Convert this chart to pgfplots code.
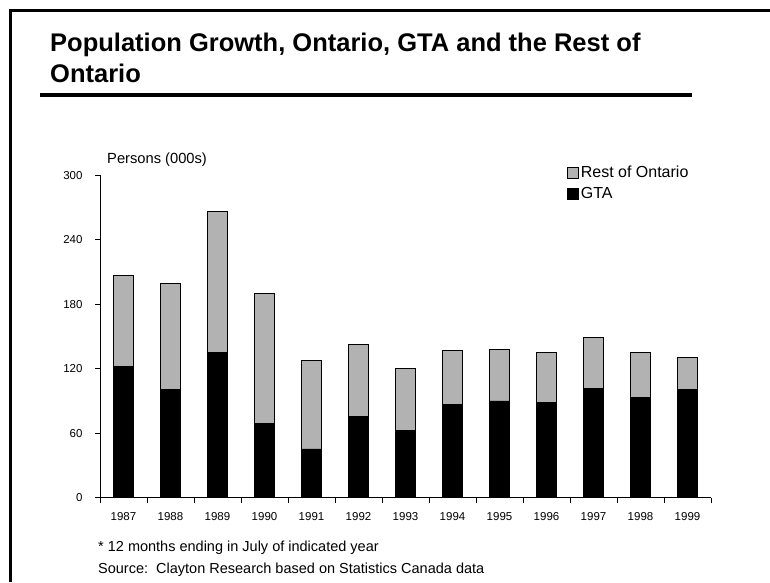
\documentclass[border=0pt]{standalone}
\usepackage{fontspec}
\setmainfont{Liberation Sans}
\usepackage{pgfplots}
\pgfplotsset{compat=1.18}
\definecolor{restgray}{RGB}{178,178,178}
\begin{document}
\begin{tikzpicture}[x=1pt,y=1pt]
\useasboundingbox (0,0) rectangle (770,582);
\fill[white] (0,0) rectangle (770,582);
\draw[line width=2.6pt] (10.5,0) -- (10.5,571.5) -- (770,571.5);
\node[anchor=base west, inner sep=0pt, font=\fontsize{25.5}{30}\bfseries\selectfont] at (50,530) {Population Growth, Ontario, GTA and the Rest of};
\node[anchor=base west, inner sep=0pt, font=\fontsize{25.5}{30}\bfseries\selectfont] at (50,499) {Ontario};
\draw[line width=3.6pt] (40,487) -- (692,487);
\node[anchor=west, inner sep=0pt, font=\fontsize{14.7}{17}\selectfont] at (107,422) {Persons (000s)};
\node[anchor=base west, inner sep=0pt, font=\fontsize{14.5}{17}\selectfont] at (98,31) {* 12 months ending in July of indicated year};
\node[anchor=base west, inner sep=0pt, font=\fontsize{14.5}{17}\selectfont] at (98,9) {Source:\ \ Clayton Research based on Statistics Canada data};
\begin{axis}[
  at={(100pt,84.3pt)}, anchor=south west,
  width=611pt, height=322.4pt, scale only axis,
  xmin=-0.5, xmax=12.5, ymin=0, ymax=300,
  ytick={0,60,120,180,240,300},
  xtick={-0.5,0.5,1.5,2.5,3.5,4.5,5.5,6.5,7.5,8.5,9.5,10.5,11.5,12.5},
  xticklabels={},
  extra x ticks={0,1,2,3,4,5,6,7,8,9,10,11,12},
  extra x tick labels={1987,1988,1989,1990,1991,1992,1993,1994,1995,1996,1997,1998,1999},
  extra x tick style={tick style={draw=none}, xticklabel style={yshift=-6pt}},
  axis lines*=left,
  axis line style={line width=0.9pt},
  tick style={line width=0.9pt, black},
  tick align=outside,
  major tick length=5pt,
  tick label style={font=\fontsize{11.5}{13}\selectfont},
  yticklabel style={xshift=-9pt},
  /pgf/number format/assume math mode=true,
  ybar stacked, bar width=20pt,
  reverse legend,
  legend cell align=left,
  legend style={at={(0.764,1.035)}, anchor=north west, draw=none, fill=none,
    font=\fontsize{16}{19}\selectfont, inner sep=0pt, row sep=4pt},
  legend image code/.code={\draw[#1] (0pt,-5.5pt) rectangle (11pt,5.5pt);},
]
\addplot[fill=black, draw=black, line width=0.8pt] coordinates {
(0,122) (1,101) (2,135.5) (3,68.7) (4,45.4) (5,75.8) (6,63) (7,87) (8,90) (9,89) (10,101.3) (11,93.2) (12,101)};
\addlegendentry{GTA}
\addplot[fill=restgray, draw=black, line width=0.8pt] coordinates {
(0,84.8) (1,98) (2,130.5) (3,121.7) (4,82.6) (5,66.8) (6,57.2) (7,50.3) (8,48.2) (9,46.5) (10,48.1) (11,41.9) (12,29.4)};
\addlegendentry{Rest of Ontario}
\end{axis}
\end{tikzpicture}
\end{document}
